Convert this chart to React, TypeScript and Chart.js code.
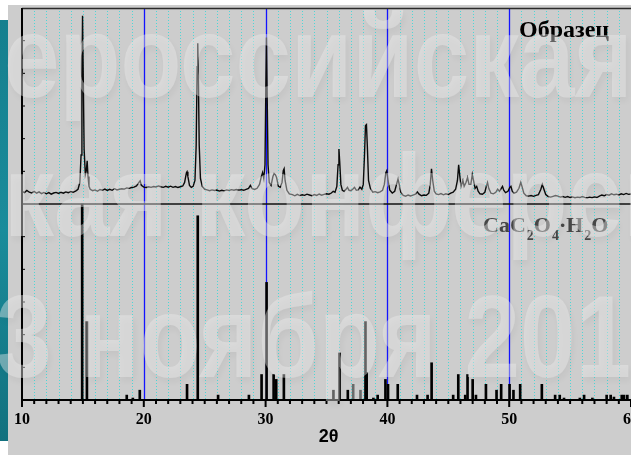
import React, { useEffect, useRef } from "react";
import { Chart, registerables } from "chart.js";

Chart.register(...registerables);

// ---- data ----
const xMin = 10;
const xMax = 60;
const xTickLabels = [10, 20, 30, 40, 50, 60];
const axisTitle = "2θ";
const sampleLabel = "Образец";
const watermarkLines = ["ероссийская", "кая конференция", "3 ноября 2011"];

// experimental pattern: [2θ, intensity (0..100 of upper panel)]
const samplePattern: [number, number][] = [
  [10.0, 6.5], [10.2, 5.8], [10.4, 6.9], [10.6, 6.0], [10.8, 5.6], [11.0, 6.4], [11.2, 5.5], [11.4, 6.2],
  [11.6, 5.3], [11.8, 5.9], [12.0, 5.2], [12.2, 5.8], [12.4, 5.0], [12.6, 5.6], [12.8, 5.9], [13.0, 5.4],
  [13.2, 6.0], [13.4, 5.5], [13.6, 6.2], [13.8, 5.8], [14.0, 6.4], [14.2, 6.0], [14.4, 6.6], [14.6, 7.5],
  [14.75, 11], [14.85, 25], [14.92, 60], [14.97, 96], [15.02, 70], [15.1, 28], [15.2, 15], [15.28, 17],
  [15.35, 22], [15.42, 14], [15.5, 9], [15.6, 7.5], [15.8, 6.8], [16.0, 7.2], [16.2, 6.5], [16.4, 7.4],
  [16.6, 7.0], [16.8, 7.6], [17.0, 6.9], [17.2, 7.5], [17.4, 7.0], [17.6, 7.8], [17.8, 7.2], [18.0, 7.5],
  [18.2, 7.8], [18.4, 7.6], [18.6, 8.2], [18.8, 8.0], [19.0, 8.4], [19.2, 8.6], [19.4, 9.2], [19.6, 11],
  [19.7, 11.8], [19.8, 9.5], [20.0, 8.6], [20.2, 8.4], [20.4, 8.8], [20.6, 8.5], [20.8, 8.9], [21.0, 8.7],
  [21.2, 9.2], [21.4, 8.8], [21.6, 8.5], [21.8, 9.0], [22.0, 8.6], [22.2, 9.1], [22.4, 8.5], [22.6, 8.9],
  [22.8, 8.4], [23.0, 8.8], [23.2, 9.2], [23.35, 11], [23.5, 16], [23.55, 16.5], [23.62, 14], [23.75, 9.5],
  [23.9, 8.5], [24.05, 9], [24.2, 12], [24.3, 30], [24.38, 70], [24.43, 82], [24.48, 65], [24.55, 30],
  [24.65, 13], [24.8, 9], [25.0, 7.5], [25.2, 7.2], [25.4, 6.8], [25.6, 7.2], [25.8, 6.9], [26.0, 7.1],
  [26.2, 6.6], [26.4, 7.0], [26.6, 6.7], [26.8, 7.2], [27.0, 6.9], [27.2, 7.3], [27.4, 7.0], [27.6, 7.4],
  [27.8, 7.1], [28.0, 7.3], [28.2, 7.0], [28.4, 7.5], [28.6, 8.0], [28.75, 9.5], [28.9, 7.8], [29.1, 7.4],
  [29.3, 8.0], [29.5, 10], [29.65, 14], [29.75, 16], [29.85, 13], [29.95, 20], [30.02, 60], [30.07, 85],
  [30.12, 60], [30.2, 20], [30.3, 11], [30.45, 9.5], [30.6, 14], [30.7, 15.5], [30.8, 15], [30.9, 13.5],
  [31.05, 9], [31.2, 8.5], [31.35, 11], [31.45, 17], [31.52, 18], [31.6, 12], [31.75, 7], [31.95, 5.2],
  [32.2, 4.8], [32.4, 4.2], [32.6, 4.9], [32.8, 4.3], [33.0, 4.7], [33.2, 4.4], [33.4, 5.0], [33.6, 4.6],
  [33.8, 4.2], [34.0, 4.8], [34.2, 4.4], [34.4, 5.1], [34.6, 4.5], [34.8, 4.9], [35.0, 5.2], [35.2, 5.0],
  [35.4, 5.6], [35.55, 6.5], [35.7, 6.0], [35.85, 9], [35.95, 20], [36.02, 28], [36.08, 22], [36.18, 10],
  [36.3, 7], [36.45, 6.5], [36.6, 7.5], [36.72, 8.5], [36.85, 7], [37.0, 6.8], [37.15, 7.5], [37.3, 8.5],
  [37.45, 7], [37.6, 7.2], [37.75, 8.6], [37.9, 7.5], [38.02, 10], [38.12, 25], [38.2, 40], [38.28, 40.5],
  [38.35, 30], [38.45, 12], [38.6, 8], [38.8, 6], [39.0, 6.3], [39.2, 5.8], [39.4, 6.2], [39.6, 7],
  [39.75, 10], [39.87, 16], [39.95, 17], [40.05, 12], [40.2, 7], [40.4, 5.6], [40.6, 6.5], [40.75, 10],
  [40.87, 12.7], [40.97, 10], [41.1, 6], [41.3, 4.4], [41.5, 4.0], [41.7, 4.6], [41.9, 4.1], [42.1, 4.5],
  [42.3, 5], [42.45, 6.2], [42.6, 5], [42.8, 4.2], [43.0, 4.6], [43.2, 4.4], [43.4, 5.5], [43.52, 10],
  [43.62, 18], [43.72, 12], [43.85, 6.5], [44.0, 5.2], [44.2, 4.8], [44.4, 5.3], [44.6, 4.7], [44.8, 5.2],
  [45.0, 4.8], [45.2, 5.5], [45.4, 6.0], [45.6, 7.5], [45.75, 12], [45.85, 20], [45.95, 14], [46.05, 9],
  [46.2, 12], [46.3, 9], [46.45, 11], [46.58, 13.5], [46.7, 10], [46.85, 10], [46.97, 15], [47.07, 12],
  [47.2, 8], [47.33, 9], [47.45, 6.5], [47.6, 5.2], [47.8, 5.0], [48.0, 6], [48.12, 9], [48.22, 11],
  [48.32, 8], [48.5, 5.5], [48.7, 5.2], [48.9, 6], [49.05, 7.6], [49.2, 6.5], [49.35, 8], [49.45, 9],
  [49.55, 7], [49.7, 5.8], [49.9, 6.5], [50.05, 8.5], [50.14, 9], [50.25, 6.5], [50.4, 5.5], [50.6, 6],
  [50.8, 8], [50.95, 11], [51.05, 9], [51.2, 5.5], [51.4, 4.2], [51.6, 4.0], [51.8, 4.3], [52.0, 3.9],
  [52.2, 4.4], [52.4, 4.8], [52.6, 7.5], [52.72, 10], [52.85, 7.5], [53.0, 4.8], [53.2, 3.8], [53.4, 3.5],
  [53.6, 3.9], [53.8, 4.3], [54.0, 4.0], [54.2, 3.5], [54.4, 3.8], [54.6, 3.4], [54.8, 3.8], [55.0, 3.3],
  [55.2, 3.6], [55.4, 3.2], [55.6, 3.5], [55.8, 3.3], [56.0, 3.8], [56.2, 3.4], [56.4, 3.1], [56.6, 3.5],
  [56.8, 3.2], [57.0, 3.6], [57.2, 3.3], [57.4, 4.0], [57.6, 4.6], [57.8, 4.2], [58.0, 4.8], [58.2, 4.5],
  [58.4, 5.2], [58.6, 4.7], [58.8, 5.0], [59.0, 4.6], [59.2, 5.2], [59.4, 4.8], [59.6, 5.4], [59.8, 4.9],
  [60.0, 5.1],
];

// reference lines CaC2O4·H2O: positions and relative intensities
const refTheta = [
  14.94, 15.33, 18.6, 19.1, 19.67, 23.55, 24.43, 26.1, 28.63, 29.67, 30.08, 30.66, 30.87, 31.5,
  35.57, 36.07, 36.75, 37.19, 37.79, 38.2, 38.3, 38.85, 39.2, 39.84, 40.05, 40.85, 42.43, 43.3,
  43.63, 45.4, 45.82, 46.39, 46.58, 47.0, 47.27, 48.09, 48.96, 49.34, 50.03, 50.35, 50.9, 52.68,
  53.77, 54.15, 54.5, 55.8, 56.15, 56.83, 58.0, 58.33, 58.6, 59.24, 59.43, 59.7,
];
const refIntensity = [
  100, 40, 2.5, 1, 5, 8, 94, 2.5, 2.5, 13, 60, 13, 10.5, 13,
  5, 24, 5, 8, 5, 40, 14, 1, 2.5, 10.5, 8, 8, 2.5, 2.5,
  19, 2.5, 13, 2.5, 13, 10.5, 2.5, 8, 5, 8, 8, 5, 8, 8,
  2.5, 2.5, 1, 1, 2.5, 1, 2.5, 2.5, 1.5, 2.5, 2.5, 2.5,
];
const refGrayTheta = [37.19, 37.79];

const W = 631;
const H = 455;

export default function App() {
  const canvasRef = useRef<HTMLCanvasElement | null>(null);

  useEffect(() => {
    const canvas = canvasRef.current;
    if (!canvas) return;

    const gridPlugin = {
      id: "gridBg",
      beforeDatasetsDraw(chart: any) {
        const { ctx, chartArea, scales } = chart;
        const xs = scales.x;
        ctx.save();
        for (let v = xMin + 1; v < xMax; v++) {
          const px = Math.round(xs.getPixelForValue(v)) + 0.5;
          ctx.beginPath();
          if (v % 10 === 0) {
            ctx.setLineDash([]);
            ctx.strokeStyle = "#1414ff";
            ctx.lineWidth = 1.3;
          } else {
            ctx.setLineDash([1, 2]);
            ctx.strokeStyle = "rgba(70,215,215,0.95)";
            ctx.lineWidth = 1;
          }
          ctx.moveTo(px, chartArea.top);
          ctx.lineTo(px, chartArea.bottom);
          ctx.stroke();
        }
        ctx.restore();
      },
    };

    const framePlugin = {
      id: "frame",
      afterDatasetsDraw(chart: any) {
        const { ctx, chartArea, scales } = chart;
        const xs = scales.x;
        const yTop = scales.yTop;
        const yBot = scales.yBot;
        const L = chartArea.left;
        const R = chartArea.right;
        const T = chartArea.top;
        const B = chartArea.bottom;
        const mid = yTop.getPixelForValue(0);
        ctx.save();
        ctx.setLineDash([]);
        // top border
        ctx.strokeStyle = "#2a2a2a";
        ctx.lineWidth = 1.5;
        ctx.beginPath();
        ctx.moveTo(L, T + 0.5);
        ctx.lineTo(R, T + 0.5);
        ctx.stroke();
        // separator
        ctx.strokeStyle = "#111";
        ctx.lineWidth = 1.5;
        ctx.beginPath();
        ctx.moveTo(L, mid);
        ctx.lineTo(R, mid);
        ctx.stroke();
        // bottom axis
        ctx.strokeStyle = "#000";
        ctx.lineWidth = 2;
        ctx.beginPath();
        ctx.moveTo(L - 1, B);
        ctx.lineTo(R, B);
        ctx.stroke();
        // left axis
        ctx.beginPath();
        ctx.moveTo(L, T);
        ctx.lineTo(L, B + 4);
        ctx.stroke();
        // x ticks
        for (let v = xMin; v <= xMax; v++) {
          const px = xs.getPixelForValue(v);
          ctx.beginPath();
          ctx.moveTo(px, B);
          ctx.lineTo(px, B + (v % 10 === 0 ? 7 : 4));
          ctx.stroke();
        }
        // small left ticks
        ctx.lineWidth = 1;
        for (let k = 1; k < 6; k++) {
          const v = (100 / 6) * k;
          for (const py of [yTop.getPixelForValue(v), yBot.getPixelForValue(v)]) {
            ctx.beginPath();
            ctx.moveTo(L, py);
            ctx.lineTo(L + 3, py);
            ctx.stroke();
          }
        }
        // tick labels
        ctx.fillStyle = "#000";
        ctx.font = "bold 16px 'Liberation Serif', 'Times New Roman', serif";
        ctx.textAlign = "center";
        ctx.textBaseline = "middle";
        for (const t of xTickLabels) {
          ctx.fillText(String(t), xs.getPixelForValue(t), B + 20);
        }
        // axis title
        ctx.font = "bold 18px 'Liberation Sans', Arial, sans-serif";
        ctx.fillText(axisTitle, (L + R) / 2 + 2, B + 37);
        // panel labels
        ctx.textAlign = "left";
        ctx.textBaseline = "alphabetic";
        ctx.font = "bold 24px 'Liberation Serif', 'Times New Roman', serif";
        ctx.fillStyle = "#000";
        ctx.fillText(sampleLabel, 519, 37);

        // CaC2O4·H2O
        const parts: [string, boolean][] = [
          ["CaC", false], ["2", true], ["O", false], ["4", true], ["·H", false], ["2", true], ["O", false],
        ];
        ctx.fillStyle = "#474747";
        let cx = 483;
        const base = mid + 28;
        for (const [s, sub] of parts) {
          ctx.font = sub
            ? "bold 14px 'Liberation Serif', 'Times New Roman', serif"
            : "bold 22px 'Liberation Serif', 'Times New Roman', serif";
          ctx.fillText(s, cx, sub ? base + 8 : base);
          cx += ctx.measureText(s).width + (sub ? 0 : 1);
        }
        ctx.restore();
      },
      afterDraw(chart: any) {
        const { ctx } = chart;
        ctx.save();
        ctx.font = "bold 116px 'Liberation Sans', Arial, sans-serif";
        ctx.textAlign = "left";
        ctx.textBaseline = "alphabetic";
        const pos: [number, number][] = [[4, 97], [4, 236], [-4, 377]];
        watermarkLines.forEach((line, i) => {
          const [x, y] = pos[i];
          ctx.save();
          ctx.translate(x, y);
          ctx.scale(0.86, 1);
          ctx.shadowColor = "rgba(0,0,0,0.10)";
          ctx.shadowBlur = 6;
          ctx.shadowOffsetX = 2;
          ctx.shadowOffsetY = 4;
          ctx.fillStyle = "rgba(236,236,236,0.42)";
          ctx.fillText(line, 0, 0);
          ctx.restore();
        });
        ctx.restore();
      },
    };

    const barColors = refTheta.map((t) => (refGrayTheta.includes(t) ? "#6a6a6a" : "#000"));

    const chart = new Chart(canvas, {
      type: "bar",
      data: {
        datasets: [
          {
            type: "line",
            data: samplePattern.map(([x, y]) => ({ x, y })),
            yAxisID: "yTop",
            borderColor: "#0a0a0a",
            borderWidth: 1.4,
            pointRadius: 0,
            tension: 0,
            order: 1,
          } as any,
          {
            type: "bar",
            data: refTheta.map((x, i) => ({ x, y: refIntensity[i] })),
            yAxisID: "yBot",
            backgroundColor: barColors,
            barThickness: 2,
            order: 2,
          } as any,
        ],
      },
      options: {
        responsive: false,
        animation: false,
        devicePixelRatio: 1,
        layout: { padding: { left: 22, top: 8, right: 0, bottom: 55 } },
        plugins: { legend: { display: false }, tooltip: { enabled: false } },
        scales: {
          x: { type: "linear", min: xMin, max: xMax, display: false, offset: false, grid: { offset: false } },
          yTop: { type: "linear", min: -100, max: 100, display: false },
          yBot: { type: "linear", min: 0, max: 200, display: false },
        },
      } as any,
      plugins: [gridPlugin, framePlugin],
    });

    return () => chart.destroy();
  }, []);

  return (
    <div
      style={{
        position: "absolute",
        left: 0,
        top: 0,
        width: W,
        height: H,
        background: "#ffffff",
        overflow: "hidden",
      }}
    >
      <div
        style={{
          position: "absolute",
          left: 0,
          top: 20,
          width: 8,
          height: 421,
          background: "linear-gradient(180deg, #157f8e 0%, #1a8c9b 50%, #12707e 100%)",
        }}
      />
      <div
        style={{
          position: "absolute",
          left: 8,
          top: 5,
          right: 0,
          bottom: 0,
          background: "#cdcdcd",
        }}
      />
      <canvas
        ref={canvasRef}
        width={W}
        height={H}
        style={{ position: "absolute", left: 0, top: 0, width: W, height: H }}
      />
    </div>
  );
}
